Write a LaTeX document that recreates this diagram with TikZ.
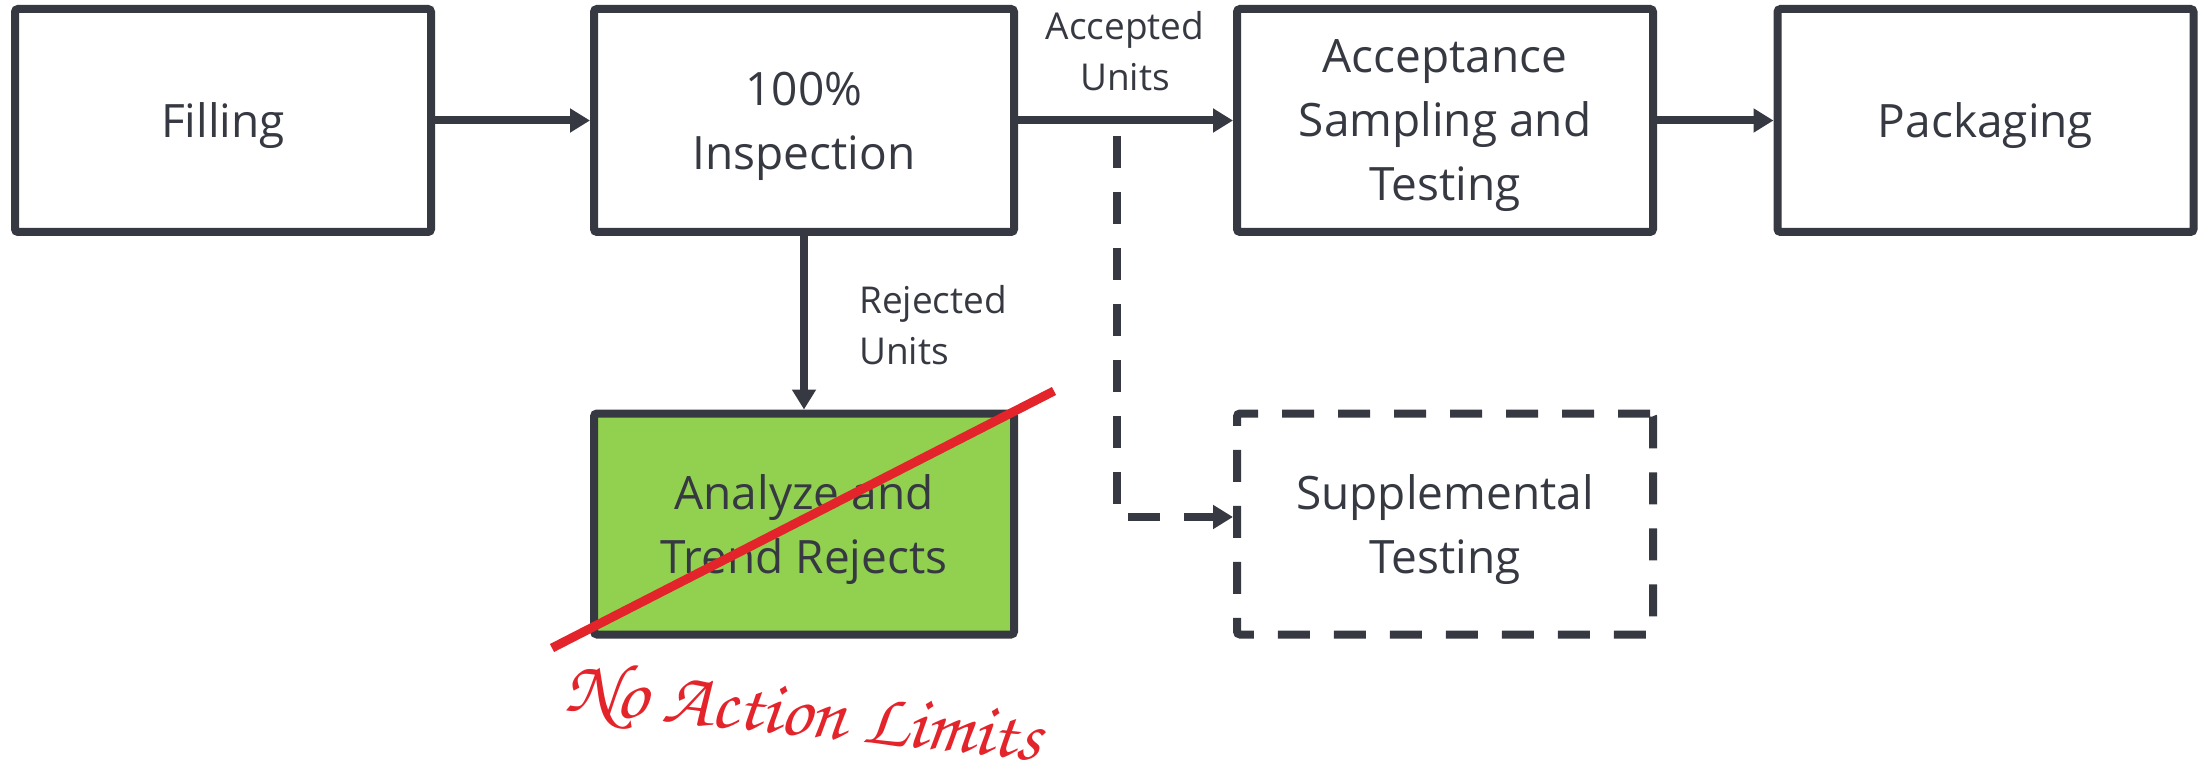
\documentclass[tikz,border=0pt]{standalone}
\usepackage{fontspec}
\setmainfont{Open Sans}
\newfontfamily\handfont{texgyrechorus-mediumitalic.otf}
\usetikzlibrary{arrows.meta}
\definecolor{ink}{HTML}{363941}
\definecolor{leaf}{HTML}{92D050}
\definecolor{strike}{HTML}{E3242B}
\tikzset{
  stage/.style={draw=ink, line width=8pt, rounded corners=3pt, fill=white,
    minimum width=416pt, minimum height=223pt, inner sep=0pt, text depth=0pt,
    align=center, text=ink, font=\fontsize{46}{64}\selectfont},
  optional/.style={stage, dash pattern=on 32pt off 24pt},
  flowlabel/.style={text=ink, inner sep=0pt, font=\fontsize{37}{51}\selectfont},
  flow/.style={draw=ink, line width=8pt, -{Triangle[length=20pt,width=23pt]}},
  optflow/.style={flow, dash pattern=on 32pt off 24pt},
}
\begin{document}
\begin{tikzpicture}[x=1pt, y=-1pt]
  \useasboundingbox (0,0) rectangle (2204,778);

  % process stages
  \node[stage] (fill) at (223,120.5) {Filling};
  \node[stage, minimum width=420pt] (insp) at (804,120.5) {100\%\\Inspection};
  \node[stage] (acc) at (1445,120.5) {Acceptance\\Sampling and\\Testing};
  \node[stage] (pack) at (1985.5,120.5) {Packaging};
  \node[stage, fill=leaf, minimum width=420pt, minimum height=221pt] (anal) at (804,524) {Analyze and\\Trend Rejects};
  \node[optional, minimum height=221pt] (supp) at (1445,524) {Supplemental\\Testing};

  % main flow
  \draw[flow] (fill) -- (insp);
  \draw[flow] (insp) -- (acc);
  \draw[flow] (acc) -- (pack);
  \draw[flow] (insp) -- (anal);

  % optional route to supplemental testing
  \coordinate (split) at (1117,136);
  \draw[optflow] (split) |- ([yshift=7pt]supp.west);

  % connector labels
  \node[flowlabel, align=center] (acclabel) at (1125,51) {Accepted\\Units};
  \node[flowlabel, align=left, anchor=west] (rejlabel) at (859,325) {Rejected\\Units};

  % strike-through and handwritten note
  \coordinate (strikeA) at (552,648);
  \coordinate (strikeB) at (1054,391);
  \draw[strike, line width=9pt] (strikeA) -- (strikeB);
  \node[text=strike, rotate=-6, inner sep=0pt, font=\handfont\fontsize{77}{77}\selectfont] (note) at (803,716) {No Action Limits};
\end{tikzpicture}
\end{document}
